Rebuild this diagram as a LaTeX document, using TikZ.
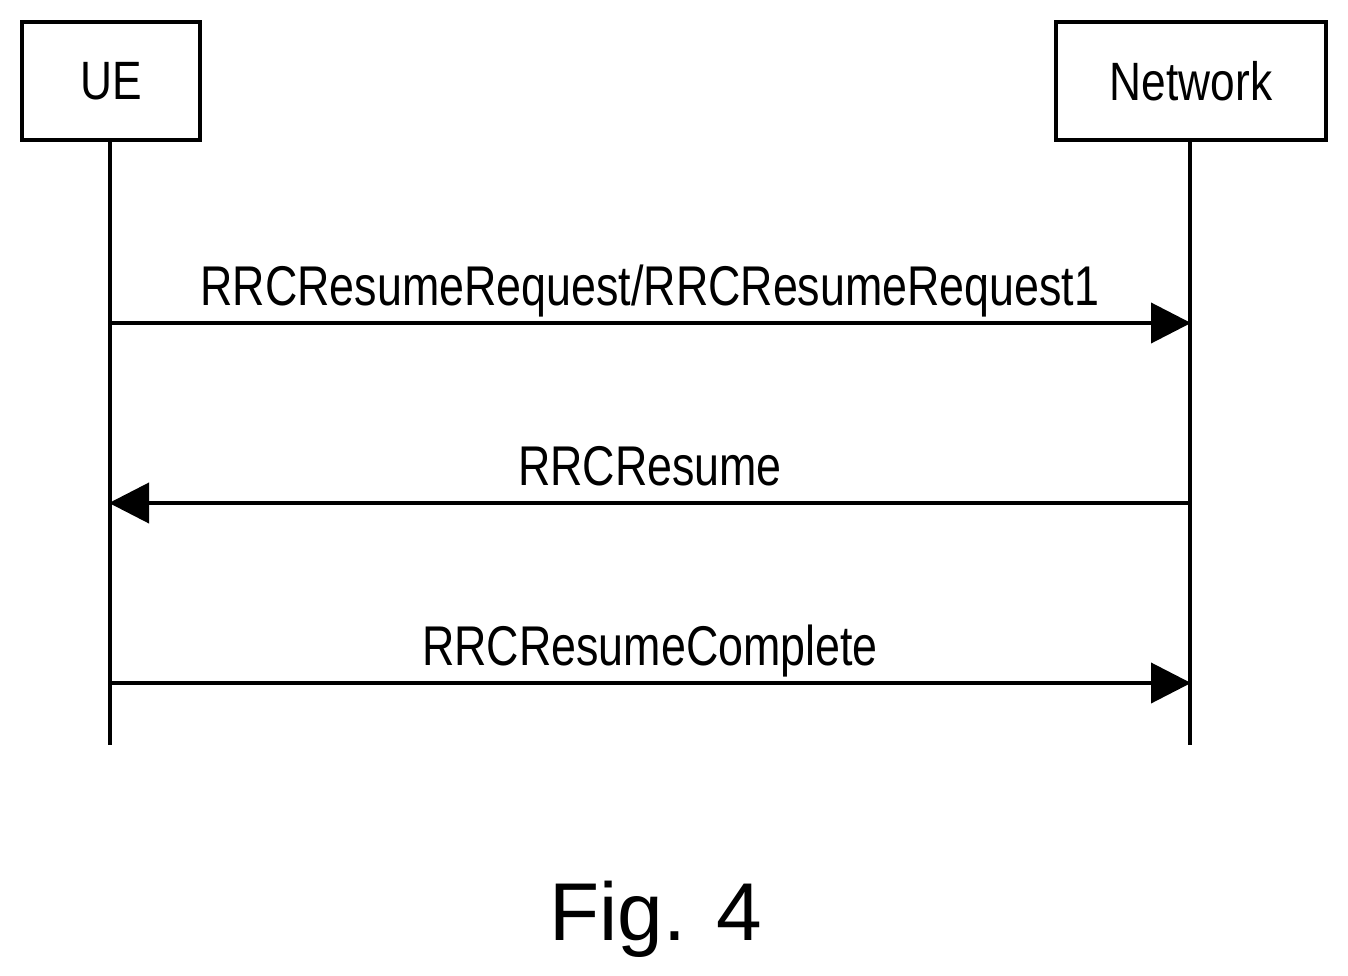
\documentclass[tikz,border=0pt]{standalone}
\usepackage{fontspec}
\setmainfont{Liberation Sans}
\usetikzlibrary{arrows.meta}
\begin{document}
\begin{tikzpicture}[x=1pt,y=-1pt,line width=4pt,
  box/.style={draw,line width=4pt,minimum width=178pt,minimum height=118pt,inner sep=0pt},
  msg/.style={-{Triangle[length=40pt,width=40pt]},shorten >=-1pt},
  lbl/.style={font=\fontsize{56}{56}\selectfont,inner sep=0pt,anchor=base}]
\useasboundingbox (0,0) rectangle (1348,976);
\node[box,font=\fontsize{54}{54}\selectfont] (ue) at (111,81) {\scalebox{0.82}[1]{UE}};
\node[box,minimum width=270pt,font=\fontsize{54}{54}\selectfont] (nw) at (1191,81) {\scalebox{0.82}[1]{Network}};
\coordinate (ueend) at (110,745);
\coordinate (nwend) at (1190,745);
\draw (ue.south -| ueend) -- (ueend);
\draw (nw.south -| nwend) -- (nwend);
\coordinate (a1) at (110,323); \coordinate (b1) at (1190,323);
\coordinate (a2) at (110,503); \coordinate (b2) at (1190,503);
\coordinate (a3) at (110,683); \coordinate (b3) at (1190,683);
\draw[msg] (a1) -- (b1);
\draw[msg] (b2) -- (a2);
\draw[msg] (a3) -- (b3);
\node[lbl] (t1) at (650,305) {\scalebox{0.8}[1]{RRCResumeRequest/RRCResumeRequest1}};
\node[lbl] (t2) at (650,485) {\scalebox{0.8}[1]{RRCResume}};
\node[lbl] (t3) at (650,665) {\scalebox{0.8}[1]{RRCResumeComplete}};
\node[lbl,font=\fontsize{82}{82}\selectfont] (fig) at (656,940) {Fig. 4};
\end{tikzpicture}
\end{document}
